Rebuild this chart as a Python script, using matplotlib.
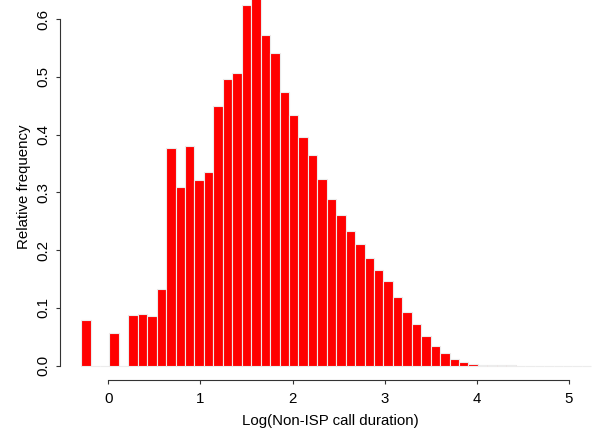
import numpy as np
import matplotlib
matplotlib.use("Agg")
import matplotlib.pyplot as plt

plt.rcParams['font.family'] = ['Liberation Sans', 'DejaVu Sans']

# Histogram layout (equal-width bins)
bin_start = -0.296
bin_width = 0.1026

rel_freq = [
    0.0785, 0.0, 0.0, 0.0566, 0.0, 0.0877, 0.0894, 0.0865, 0.133, 0.3766,
    0.309, 0.380, 0.321, 0.336, 0.449, 0.4955, 0.506, 0.6247, 0.64, 0.5727,
    0.541, 0.4735, 0.434, 0.396, 0.365, 0.3235, 0.288, 0.2607, 0.2336, 0.2106,
    0.1869, 0.165, 0.146, 0.1189, 0.0934, 0.0721, 0.0514, 0.0346, 0.0215, 0.0112,
    0.0055, 0.003, 0.0012, 0.0006, 0.0003, 0.0003, 0.0002, 0.0002, 0.0002, 0.0001,
    0.0001, 0.0001, 0.0001, 0.0001,
]
x_ticks = [0, 1, 2, 3, 4, 5]
y_ticks = [0.0, 0.1, 0.2, 0.3, 0.4, 0.5, 0.6]
x_label = "Log(Non-ISP call duration)"
y_label = "Relative frequency"

W, H, DPI = 595, 432, 100
fig = plt.figure(figsize=(W / DPI, H / DPI), dpi=DPI)

# axes placement in pixels
ax_left_px, ax_right_px = 66.9, 594.6
ax_top_px, ax_bot_px = 0.0, 372.6
ax = fig.add_axes([ax_left_px / W, 1 - ax_bot_px / H,
                   (ax_right_px - ax_left_px) / W, (ax_bot_px - ax_top_px) / H])

n = len(rel_freq)
lefts = bin_start + bin_width * np.arange(n)
ax.bar(lefts, rel_freq, width=bin_width, align='edge', color='#ff0000',
       edgecolor='#ececec', linewidth=0.8)

ax.set_xlim(-0.45, 5.28)
ax.set_ylim(-0.012, 0.633)

for s in ['top', 'right']:
    ax.spines[s].set_visible(False)
ax.spines['left'].set_position(('outward', 5.0))
ax.spines['bottom'].set_position(('outward', 5.6))
ax.spines['left'].set_bounds(0, 0.6)
ax.spines['bottom'].set_bounds(0, 5)
for s in ['left', 'bottom']:
    ax.spines[s].set_color('#333333')
    ax.spines[s].set_linewidth(0.8)

fs = 10.8
ax.set_xticks(x_ticks)
ax.set_xticklabels([str(v) for v in x_ticks])
ax.set_yticks(y_ticks)
ax.set_yticklabels([f"{v:.1f}" for v in y_ticks], rotation=90, va='center')
ax.tick_params(axis='both', length=2.7, width=0.8, color='#333333',
               labelsize=fs)
ax.tick_params(axis='x', pad=5.5)
ax.tick_params(axis='y', pad=4.5)

ax.set_xlabel(x_label, fontsize=fs, labelpad=6)
ax.set_ylabel(y_label, fontsize=fs, labelpad=3.5)

fig.savefig("out.png", dpi=DPI)
